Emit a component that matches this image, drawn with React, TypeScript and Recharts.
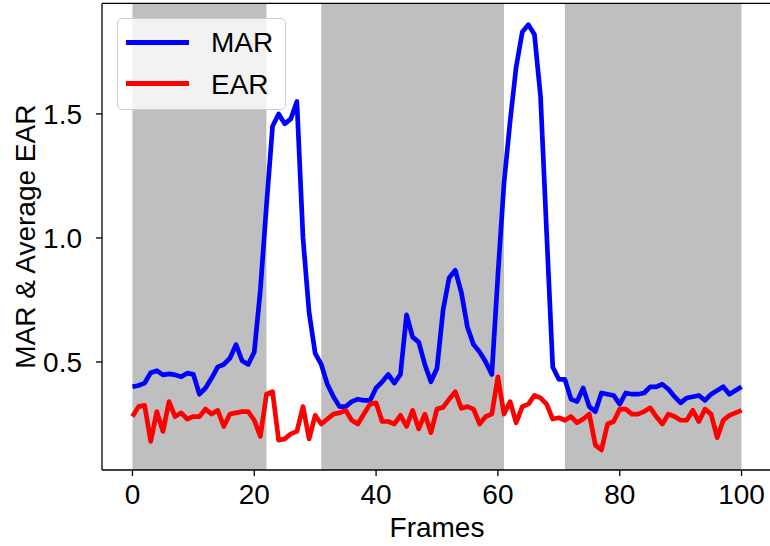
import {
  LineChart,
  Line,
  XAxis,
  YAxis,
  ReferenceArea,
  ReferenceLine,
} from 'recharts';

// Mouth aspect ratio per frame
const MAR = [
  0.4, 0.405, 0.415, 0.457, 0.465, 0.448, 0.452, 0.448, 0.44, 0.455,
  0.45, 0.37, 0.395, 0.435, 0.48, 0.49, 0.515, 0.57, 0.505, 0.49,
  0.54, 0.79, 1.13, 1.45, 1.5, 1.46, 1.48, 1.55, 1.0, 0.7,
  0.535, 0.49, 0.41, 0.36, 0.32, 0.32, 0.34, 0.35, 0.345, 0.345,
  0.395, 0.42, 0.45, 0.415, 0.45, 0.69, 0.6, 0.58, 0.49, 0.42,
  0.475, 0.71, 0.84, 0.87, 0.78, 0.64, 0.57, 0.54, 0.5, 0.45,
  0.85, 1.22, 1.47, 1.69, 1.83, 1.86, 1.82, 1.57, 1.02, 0.48,
  0.43, 0.43, 0.35, 0.34, 0.395, 0.32, 0.3, 0.375, 0.37, 0.365,
  0.33, 0.375, 0.37, 0.37, 0.375, 0.4, 0.4, 0.41, 0.39, 0.36,
  0.335, 0.355, 0.36, 0.365, 0.345, 0.37, 0.385, 0.4, 0.37, 0.385,
  0.4,
];

// Average eye aspect ratio per frame
const EAR = [
  0.28, 0.32, 0.325, 0.18, 0.3, 0.22, 0.34, 0.28, 0.295, 0.27,
  0.28, 0.28, 0.31, 0.29, 0.305, 0.24, 0.29, 0.295, 0.3, 0.3,
  0.265, 0.2, 0.37, 0.38, 0.185, 0.19, 0.21, 0.22, 0.32, 0.19,
  0.285, 0.25, 0.27, 0.29, 0.295, 0.305, 0.265, 0.25, 0.29, 0.33,
  0.335, 0.26, 0.26, 0.25, 0.285, 0.24, 0.305, 0.23, 0.29, 0.215,
  0.31, 0.317, 0.35, 0.38, 0.313, 0.32, 0.31, 0.25, 0.28, 0.29,
  0.44, 0.29, 0.34, 0.255, 0.32, 0.33, 0.365, 0.355, 0.33, 0.27,
  0.275, 0.265, 0.28, 0.255, 0.27, 0.29, 0.165, 0.145, 0.25, 0.26,
  0.31, 0.31, 0.29, 0.29, 0.3, 0.315, 0.28, 0.25, 0.29, 0.28,
  0.265, 0.265, 0.305, 0.26, 0.31, 0.29, 0.195, 0.265, 0.285, 0.295,
  0.305,
];

// shaded frame ranges
const SPANS: [number, number][] = [
  [0, 22],
  [31, 61],
  [71, 100],
];

const X_TICKS = [0, 20, 40, 60, 80, 100];
const Y_TICKS = [0.5, 1.0, 1.5];
const X_DOMAIN: [number, number] = [-5, 105];
const Y_DOMAIN: [number, number] = [0.0645, 1.946];

const FONT = '"Liberation Sans", Arial, sans-serif';
const FS = 28;
const LW = 4.7;

const data = MAR.map((mar, i) => ({ frame: i, mar, ear: EAR[i] }));

function YLabel(props: any) {
  const { viewBox } = props;
  const cy = viewBox.y + viewBox.height / 2;
  const x = 35;
  return (
    <text
      x={x}
      y={cy}
      transform={`rotate(-90, ${x}, ${cy})`}
      textAnchor="middle"
      fontSize={FS}
      fontFamily={FONT}
      fill="#000"
    >
      MAR &amp; Average EAR
    </text>
  );
}

function LegendBox() {
  const items = [
    { label: 'MAR', color: '#0000ff', lineTop: 21, textTop: 10 },
    { label: 'EAR', color: '#ff0000', lineTop: 62, textTop: 52 },
  ];
  return (
    <div
      style={{
        position: 'absolute',
        left: 117,
        top: 18,
        width: 169,
        height: 92,
        boxSizing: 'border-box',
        background: 'rgba(255,255,255,0.8)',
        border: '1px solid #cccccc',
        borderRadius: 5,
        fontFamily: FONT,
        fontSize: FS,
      }}
    >
      {items.map((it) => (
        <div key={it.label}>
          <div
            style={{
              position: 'absolute',
              left: 8,
              top: it.lineTop,
              width: 63,
              height: LW,
              background: it.color,
            }}
          />
          <span
            style={{
              position: 'absolute',
              left: 93,
              top: it.textTop,
              lineHeight: '28px',
              color: '#000',
            }}
          >
            {it.label}
          </span>
        </div>
      ))}
    </div>
  );
}

export default function App() {
  return (
    <div
      style={{
        position: 'absolute',
        left: 0,
        top: 0,
        width: 770,
        height: 546,
        overflow: 'hidden',
        background: '#fff',
      }}
    >
      <LineChart
        width={772}
        height={546}
        data={data}
        margin={{ top: 3.3, right: 0, left: 0, bottom: 0 }}
      >
        {SPANS.map(([a, b]) => (
          <ReferenceArea
            key={a}
            x1={a}
            x2={b}
            fill="#bfbfbf"
            fillOpacity={1}
            stroke="none"
            ifOverflow="visible"
          />
        ))}
        <XAxis
          dataKey="frame"
          type="number"
          domain={X_DOMAIN}
          ticks={X_TICKS}
          allowDataOverflow
          height={76}
          stroke="#000"
          strokeWidth={1.3}
          tickSize={6}
          tickMargin={8}
          tick={{ fontSize: FS, fontFamily: FONT, fill: '#000' }}
          label={{
            value: 'Frames',
            position: 'insideBottom',
            offset: 9,
            fontSize: FS,
            fontFamily: FONT,
            fill: '#000',
          }}
        />
        <YAxis
          type="number"
          domain={Y_DOMAIN}
          ticks={Y_TICKS}
          allowDataOverflow
          width={102}
          stroke="#000"
          strokeWidth={1.3}
          tickSize={6}
          tickMargin={14}
          tickFormatter={(v: number) => v.toFixed(1)}
          tick={{ fontSize: FS, fontFamily: FONT, fill: '#000' }}
          label={<YLabel />}
        />
        {/* top spine */}
        <ReferenceLine y={Y_DOMAIN[1]} stroke="#000" strokeWidth={1.3} />
        <Line
          type="linear"
          dataKey="mar"
          stroke="#0000ff"
          strokeWidth={LW}
          strokeLinejoin="round"
          dot={false}
          isAnimationActive={false}
        />
        <Line
          type="linear"
          dataKey="ear"
          stroke="#ff0000"
          strokeWidth={LW}
          strokeLinejoin="round"
          dot={false}
          isAnimationActive={false}
        />
      </LineChart>
      <LegendBox />
    </div>
  );
}
